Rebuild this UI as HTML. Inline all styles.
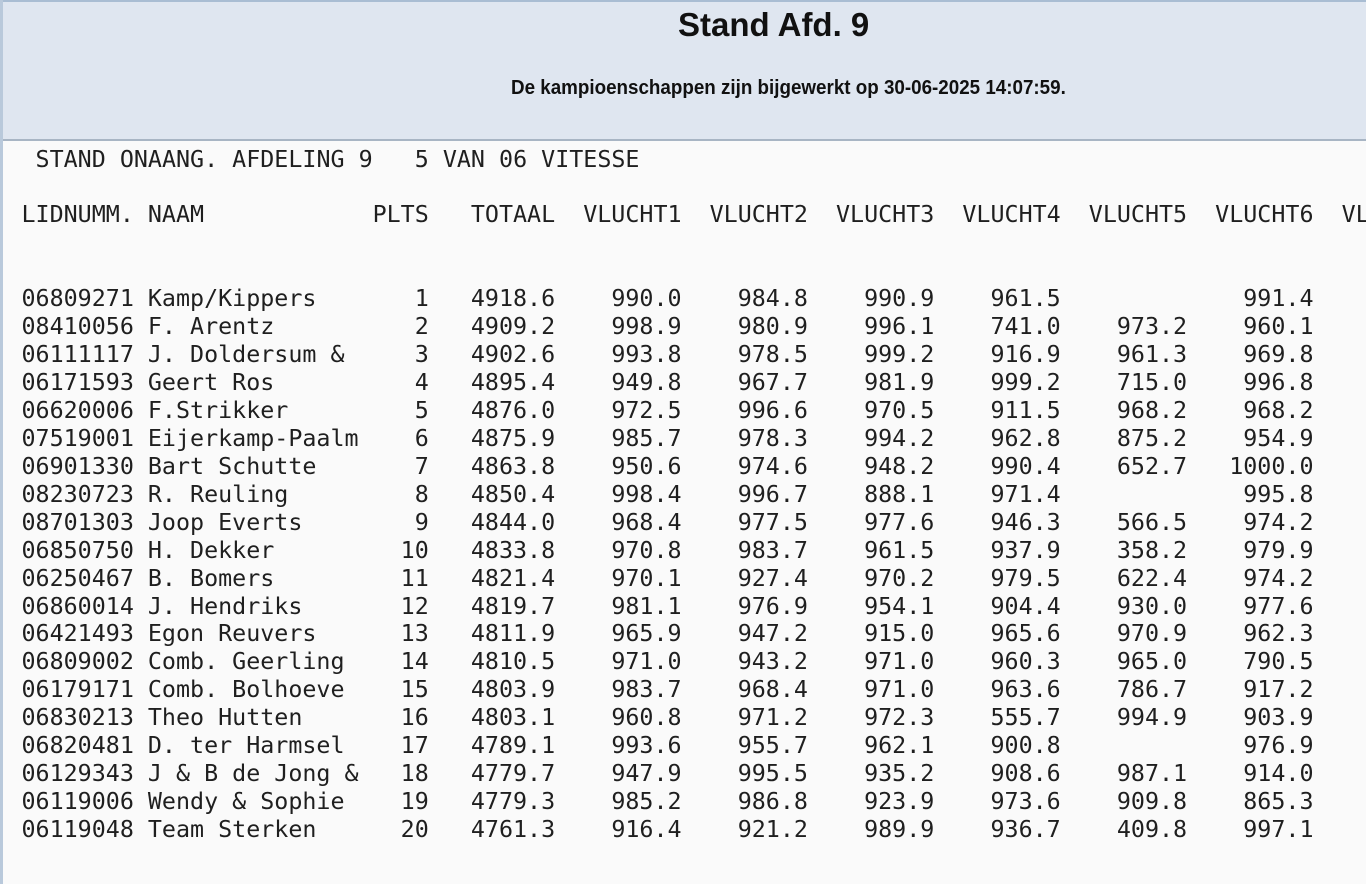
<!DOCTYPE html>
<html>
<head>
<meta charset="utf-8">
<style>
  html, body { margin:0; padding:0; }
  body { width:1366px; height:884px; overflow:hidden; background:#fafafa; position:relative; }
  .hdr { position:absolute; left:0; top:0; width:1366px; height:141px; box-sizing:border-box;
         background:#dfe6f0; border-top:2px solid #a9bdd3; border-bottom:2px solid #a8b5c4; }
  .lstrip { position:absolute; left:0; top:0; width:3px; height:884px; background:#b9c9db; }
  .title { position:absolute; left:678px; top:8px; font-family:"Liberation Sans", sans-serif;
           font-weight:bold; font-size:33px; line-height:33px; color:#111; white-space:nowrap; }
  .sub { position:absolute; left:511px; top:78px; font-family:"Liberation Sans", sans-serif;
         font-weight:bold; font-size:20px; line-height:20px; color:#111; white-space:nowrap;
         transform:scaleX(0.94); transform-origin:0 0; }
  .mono { position:absolute; left:21.5px; top:145.5px; width:1345px; overflow:hidden;
          font-family:"DejaVu Sans Mono", "Liberation Mono", monospace; font-size:23.34px;
          color:#1f1f1f; }
  .ln { height:27.95px; line-height:27.95px; white-space:pre; }
  .ln span { display:inline-block; white-space:pre; }
  .i { width:9ch; }
  .n { width:16ch; }
  .p { width:4ch; text-align:right; }
  .t { width:9ch; text-align:right; }
  .v { width:9ch; text-align:right; }
</style>
</head>
<body>
<div class="hdr"></div>
<div class="lstrip"></div>
<div class="title">Stand Afd. 9</div>
<div class="sub">De kampioenschappen zijn bijgewerkt op 30-06-2025 14:07:59.</div>

<div class="mono">
<div class="ln"> STAND ONAANG. AFDELING 9   5 VAN 06 VITESSE</div>
<div class="ln"> </div>
<div class="ln"><span class="i">LIDNUMM.</span><span class="n">NAAM</span><span class="p">PLTS</span><span class="t">TOTAAL</span><span class="v">VLUCHT1</span><span class="v">VLUCHT2</span><span class="v">VLUCHT3</span><span class="v">VLUCHT4</span><span class="v">VLUCHT5</span><span class="v">VLUCHT6</span><span class="v">VLUCHT7</span></div>
<div class="ln"> </div>
<div class="ln"> </div>
<div class="ln"><span class="i">06809271</span><span class="n">Kamp/Kippers</span><span class="p">1</span><span class="t">4918.6</span><span class="v">990.0</span><span class="v">984.8</span><span class="v">990.9</span><span class="v">961.5</span><span class="v"> </span><span class="v">991.4</span></div>
<div class="ln"><span class="i">08410056</span><span class="n">F. Arentz</span><span class="p">2</span><span class="t">4909.2</span><span class="v">998.9</span><span class="v">980.9</span><span class="v">996.1</span><span class="v">741.0</span><span class="v">973.2</span><span class="v">960.1</span></div>
<div class="ln"><span class="i">06111117</span><span class="n">J. Doldersum &amp;</span><span class="p">3</span><span class="t">4902.6</span><span class="v">993.8</span><span class="v">978.5</span><span class="v">999.2</span><span class="v">916.9</span><span class="v">961.3</span><span class="v">969.8</span></div>
<div class="ln"><span class="i">06171593</span><span class="n">Geert Ros</span><span class="p">4</span><span class="t">4895.4</span><span class="v">949.8</span><span class="v">967.7</span><span class="v">981.9</span><span class="v">999.2</span><span class="v">715.0</span><span class="v">996.8</span></div>
<div class="ln"><span class="i">06620006</span><span class="n">F.Strikker</span><span class="p">5</span><span class="t">4876.0</span><span class="v">972.5</span><span class="v">996.6</span><span class="v">970.5</span><span class="v">911.5</span><span class="v">968.2</span><span class="v">968.2</span></div>
<div class="ln"><span class="i">07519001</span><span class="n">Eijerkamp-Paalm</span><span class="p">6</span><span class="t">4875.9</span><span class="v">985.7</span><span class="v">978.3</span><span class="v">994.2</span><span class="v">962.8</span><span class="v">875.2</span><span class="v">954.9</span></div>
<div class="ln"><span class="i">06901330</span><span class="n">Bart Schutte</span><span class="p">7</span><span class="t">4863.8</span><span class="v">950.6</span><span class="v">974.6</span><span class="v">948.2</span><span class="v">990.4</span><span class="v">652.7</span><span class="v">1000.0</span></div>
<div class="ln"><span class="i">08230723</span><span class="n">R. Reuling</span><span class="p">8</span><span class="t">4850.4</span><span class="v">998.4</span><span class="v">996.7</span><span class="v">888.1</span><span class="v">971.4</span><span class="v"> </span><span class="v">995.8</span></div>
<div class="ln"><span class="i">08701303</span><span class="n">Joop Everts</span><span class="p">9</span><span class="t">4844.0</span><span class="v">968.4</span><span class="v">977.5</span><span class="v">977.6</span><span class="v">946.3</span><span class="v">566.5</span><span class="v">974.2</span></div>
<div class="ln"><span class="i">06850750</span><span class="n">H. Dekker</span><span class="p">10</span><span class="t">4833.8</span><span class="v">970.8</span><span class="v">983.7</span><span class="v">961.5</span><span class="v">937.9</span><span class="v">358.2</span><span class="v">979.9</span></div>
<div class="ln"><span class="i">06250467</span><span class="n">B. Bomers</span><span class="p">11</span><span class="t">4821.4</span><span class="v">970.1</span><span class="v">927.4</span><span class="v">970.2</span><span class="v">979.5</span><span class="v">622.4</span><span class="v">974.2</span></div>
<div class="ln"><span class="i">06860014</span><span class="n">J. Hendriks</span><span class="p">12</span><span class="t">4819.7</span><span class="v">981.1</span><span class="v">976.9</span><span class="v">954.1</span><span class="v">904.4</span><span class="v">930.0</span><span class="v">977.6</span></div>
<div class="ln"><span class="i">06421493</span><span class="n">Egon Reuvers</span><span class="p">13</span><span class="t">4811.9</span><span class="v">965.9</span><span class="v">947.2</span><span class="v">915.0</span><span class="v">965.6</span><span class="v">970.9</span><span class="v">962.3</span></div>
<div class="ln"><span class="i">06809002</span><span class="n">Comb. Geerling</span><span class="p">14</span><span class="t">4810.5</span><span class="v">971.0</span><span class="v">943.2</span><span class="v">971.0</span><span class="v">960.3</span><span class="v">965.0</span><span class="v">790.5</span></div>
<div class="ln"><span class="i">06179171</span><span class="n">Comb. Bolhoeve</span><span class="p">15</span><span class="t">4803.9</span><span class="v">983.7</span><span class="v">968.4</span><span class="v">971.0</span><span class="v">963.6</span><span class="v">786.7</span><span class="v">917.2</span></div>
<div class="ln"><span class="i">06830213</span><span class="n">Theo Hutten</span><span class="p">16</span><span class="t">4803.1</span><span class="v">960.8</span><span class="v">971.2</span><span class="v">972.3</span><span class="v">555.7</span><span class="v">994.9</span><span class="v">903.9</span></div>
<div class="ln"><span class="i">06820481</span><span class="n">D. ter Harmsel</span><span class="p">17</span><span class="t">4789.1</span><span class="v">993.6</span><span class="v">955.7</span><span class="v">962.1</span><span class="v">900.8</span><span class="v"> </span><span class="v">976.9</span></div>
<div class="ln"><span class="i">06129343</span><span class="n">J &amp; B de Jong &amp;</span><span class="p">18</span><span class="t">4779.7</span><span class="v">947.9</span><span class="v">995.5</span><span class="v">935.2</span><span class="v">908.6</span><span class="v">987.1</span><span class="v">914.0</span></div>
<div class="ln"><span class="i">06119006</span><span class="n">Wendy &amp; Sophie</span><span class="p">19</span><span class="t">4779.3</span><span class="v">985.2</span><span class="v">986.8</span><span class="v">923.9</span><span class="v">973.6</span><span class="v">909.8</span><span class="v">865.3</span></div>
<div class="ln"><span class="i">06119048</span><span class="n">Team Sterken</span><span class="p">20</span><span class="t">4761.3</span><span class="v">916.4</span><span class="v">921.2</span><span class="v">989.9</span><span class="v">936.7</span><span class="v">409.8</span><span class="v">997.1</span></div>
</div>
</body>
</html>
